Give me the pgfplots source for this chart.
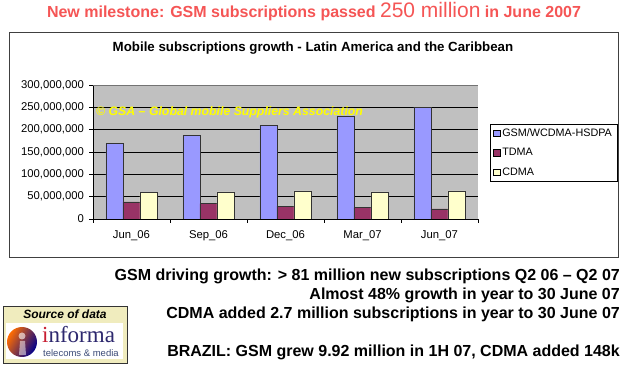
\documentclass[border=0pt]{standalone}
\usepackage{fontspec}
\setmainfont{Liberation Sans}
\newfontfamily\serifont{Liberation Serif}
\usepackage{pgfplots}
\pgfplotsset{compat=1.18}
\definecolor{titlered}{RGB}{245,85,85}
\definecolor{plotgray}{RGB}{192,192,192}
\definecolor{gsm}{RGB}{153,153,255}
\definecolor{tdma}{RGB}{153,51,102}
\definecolor{cdma}{RGB}{255,255,204}
\definecolor{wmyellow}{RGB}{255,255,0}
\definecolor{logobg}{RGB}{240,236,190}
\definecolor{informablue}{RGB}{45,40,110}
\definecolor{informared}{RGB}{200,30,50}
\definecolor{telecomblue}{RGB}{60,75,120}
\begin{document}
\begin{tikzpicture}[x=1pt,y=1pt]
\path[fill=white] (0,0) rectangle (622,-366);
\path[use as bounding box] (0,0) rectangle (622,-366);
% main title
\node[anchor=base, text=titlered, inner sep=0pt] at (314,-17.5) {\bfseries\fontsize{16}{16}\selectfont New milestone: GSM subscriptions passed {\mdseries\fontsize{21}{21}\selectfont 250 million} in June 2007};
% chart frame
\draw[black!75, line width=1pt] (9,-33) rectangle (618,-258);
\node[anchor=base, inner sep=0pt] at (313,-51.5) {\bfseries\fontsize{13.3}{13.3}\selectfont Mobile subscriptions growth - Latin America and the Caribbean};
\begin{axis}[
  at={(93pt,-219pt)}, anchor=south west,
  scale only axis, width=385pt, height=134pt,
  xmin=-0.5, xmax=4.5, ymin=0, ymax=300,
  ybar=0pt, bar width=17pt,
  axis lines*=left,
  axis line style={black, line width=0.8pt},
  axis background/.style={fill=plotgray},
  ymajorgrids, grid style={black, line width=0.8pt},
  ytick={0,50,100,150,200,250,300},
  yticklabels={0,{50,000,000},{100,000,000},{150,000,000},{200,000,000},{250,000,000},{300,000,000}},
  xtick={0,1,2,3,4},
  xticklabels={Jun\_06,Sep\_06,Dec\_06,Mar\_07,Jun\_07},
  minor xtick={-0.5,0.5,1.5,2.5,3.5,4.5},
  tick align=outside,
  major tick length=3.5pt, minor tick length=4pt,
  major x tick style={draw=none},
  minor x tick style={black, line width=0.8pt},
  ytick style={black, line width=0.8pt},
  tick label style={font=\fontsize{11.3}{13}\selectfont},
  yticklabel style={xshift=-2pt},
  xticklabel style={yshift=-5pt},
  legend style={at={(1.031,0.709)}, anchor=north west, draw=black, line width=0.8pt, fill=white,
    font=\fontsize{10.8}{12}\selectfont, row sep=5pt, inner xsep=3pt, inner ysep=2pt,
    nodes={inner sep=2pt, text height=8pt, text depth=2.5pt}},
  legend cell align=left,
  legend image code/.code={\draw[#1, draw=black, line width=0.5pt] (0pt,-3pt) rectangle (6.5pt,3.5pt);},
]
\addplot[fill=gsm, draw=black!80, line width=0.6pt] coordinates {(0,169.2) (1,188.0) (2,210.4) (3,230.6) (4,250.7)};
\addplot[fill=tdma, draw=black!80, line width=0.6pt] coordinates {(0,38.1) (1,34.2) (2,29.1) (3,25.3) (4,22.4)};
\addplot[fill=cdma, draw=black!80, line width=0.6pt] coordinates {(0,60.4) (1,60.5) (2,62.7) (3,60.6) (4,63.1)};
\legend{GSM/WCDMA-HSDPA,TDMA,CDMA}
\draw[black!55, line width=0.8pt] (axis cs:-0.5,300) -- (axis cs:4.5,300) -- (axis cs:4.5,0);
\end{axis}
% watermark
\node[anchor=base west, inner sep=0pt, text=wmyellow] at (96,-115.5) {\bfseries\itshape\fontsize{12.3}{12.3}\selectfont \textcopyright{} GSA -- Global mobile Suppliers Association};
% bottom text
\node[anchor=base east, inner sep=0pt] at (620,-280.5) {\bfseries\fontsize{16}{16}\selectfont GSM driving growth: > 81 million new subscriptions Q2 06 -- Q2 07};
\node[anchor=base east, inner sep=0pt] at (620,-299.5) {\bfseries\fontsize{16}{16}\selectfont Almost 48\% growth in year to 30 June 07};
\node[anchor=base east, inner sep=0pt] at (620,-318.5) {\bfseries\fontsize{16}{16}\selectfont CDMA added 2.7 million subscriptions in year to 30 June 07};
\node[anchor=base east, inner sep=0pt] at (620,-356.5) {\bfseries\fontsize{16}{16}\selectfont BRAZIL: GSM grew 9.92 million in 1H 07, CDMA added 148k};
% logo
\draw[black!80, fill=logobg, line width=0.8pt] (3,-306) rectangle (127,-363);
\fill[white] (6,-323) rectangle (123,-359);
\node[anchor=base, inner sep=0pt] at (65,-319) {\bfseries\itshape\fontsize{12}{12}\selectfont Source of data};
\shade[left color=orange!85!red, right color=blue!55!black, shading angle=60] (22,-342) circle (15);
\fill[white, opacity=0.6] (22,-336) circle (3.5);
\fill[white, opacity=0.5] (19,-355) -- (20,-341) -- (25,-341) -- (26,-355) -- cycle;
\node[anchor=base west, inner sep=0pt] at (42,-343) {\serifont\fontsize{23}{23}\selectfont\textcolor{informared}{i}\textcolor{informablue}{nforma}};
\node[anchor=base west, inner sep=0pt] at (43,-356.5) {\fontsize{9.5}{9.5}\selectfont\color{telecomblue}telecoms \& media};
\end{tikzpicture}
\end{document}
